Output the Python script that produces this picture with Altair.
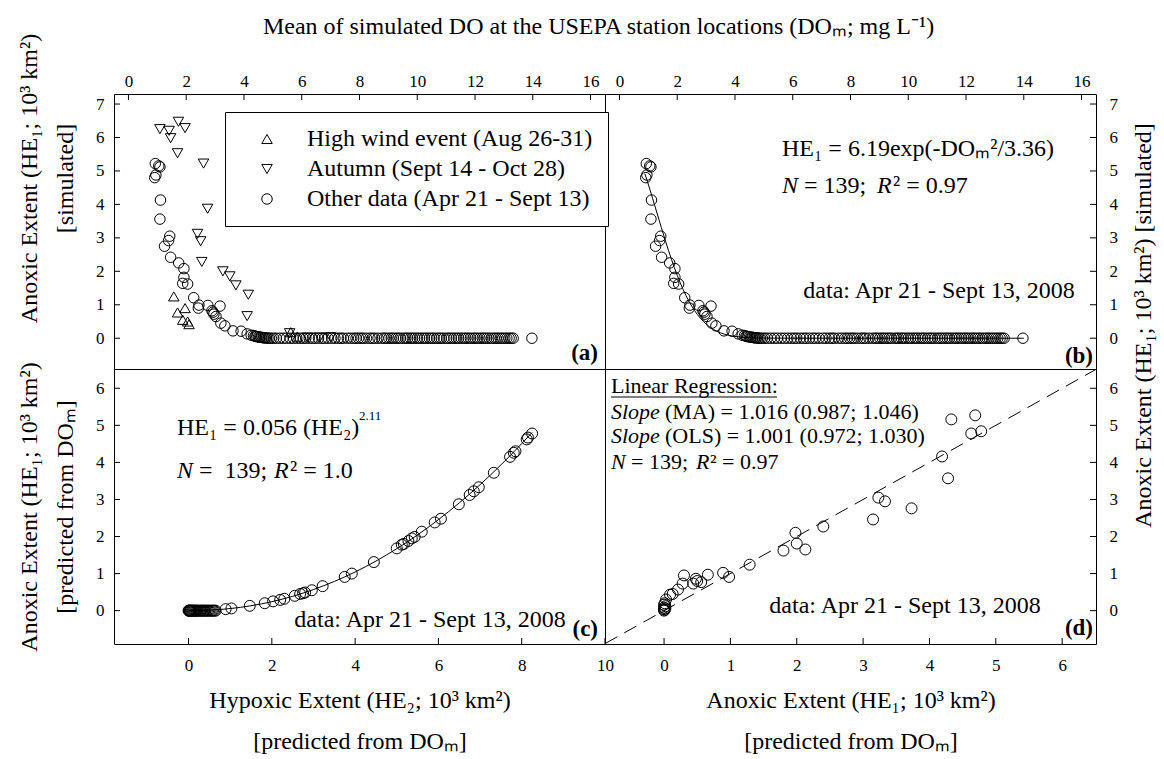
import altair as alt
import pandas as pd

FONT = "Liberation Serif"
W = 491
H = 275

# ---------------- data ----------------
# Panel (a)/(b): "other data" circles, DO_m vs simulated HE1
other_do = [0.93, 1.05, 1.09, 0.91, 0.95, 1.11, 1.09, 1.43, 1.39, 1.25,
            1.46, 1.74, 1.92, 1.92, 1.88, 2.05, 2.26, 2.44, 2.42, 2.75,
            2.89, 2.96, 2.93, 3.17, 3.03, 3.20, 3.34, 3.62, 3.90, 4.11,
            4.25, 4.33, 4.38, 4.41, 4.45, 4.50, 4.54, 4.58, 4.62, 4.66, 4.70,
            4.74, 4.78, 4.83, 4.88, 4.95, 5.03, 5.12, 5.24, 5.36, 5.47,
            5.60, 5.71, 5.83, 5.95, 6.05, 6.14, 6.26, 6.37, 6.46, 6.58,
            6.70, 6.79, 6.91, 7.04, 7.15, 7.27, 7.36, 7.44, 7.58, 7.69,
            7.80, 7.88, 7.97, 8.06, 8.13, 8.24, 8.36, 8.45, 8.52, 8.64,
            8.77, 8.86, 8.93, 9.02, 9.10, 9.17, 9.26, 9.33, 9.41, 9.52,
            9.60, 9.67, 9.76, 9.83, 9.91, 10.00, 10.08, 10.17, 10.25, 10.33,
            10.42, 10.50, 10.58, 10.68, 10.76, 10.83, 10.92, 11.02, 11.10, 11.18,
            11.27, 11.35, 11.43, 11.52, 11.61, 11.68, 11.76, 11.84, 11.93, 12.00,
            12.08, 12.17, 12.25, 12.32, 12.40, 12.48, 12.57, 12.66, 12.73, 12.80,
            12.88, 12.95, 13.03, 13.10, 13.18, 13.25, 13.32, 13.97]
other_he1 = [5.22, 5.15, 5.12, 4.80, 4.88, 4.13, 3.56, 3.05, 2.92, 2.75,
             2.42, 2.25, 2.08, 1.82, 1.64, 1.62, 1.21, 0.99, 0.90, 0.98,
             0.82, 0.72, 0.78, 0.96, 0.65, 0.45, 0.37, 0.22, 0.21, 0.13,
             0.09, 0.08, 0.06, 0.05, 0.05, 0.04, 0.03, 0.03, 0.02, 0.02, 0.01,
             0.01, 0.01, 0.0, 0.0, 0.0, 0.0, 0.0, 0.0, 0.0, 0.0,
             0.0, 0.0, 0.0, 0.0, 0.0, 0.0, 0.0, 0.0, 0.0, 0.0,
             0.0, 0.0, 0.0, 0.0, 0.0, 0.0, 0.0, 0.0, 0.0, 0.0,
             0.0, 0.0, 0.0, 0.0, 0.0, 0.0, 0.0, 0.0, 0.0, 0.0,
             0.0, 0.0, 0.0, 0.0, 0.0, 0.0, 0.0, 0.0, 0.0, 0.0,
             0.0, 0.0, 0.0, 0.0, 0.0, 0.0, 0.0, 0.0, 0.0, 0.0,
             0.0, 0.0, 0.0, 0.0, 0.0, 0.0, 0.0, 0.0, 0.0, 0.0,
             0.0, 0.0, 0.0, 0.0, 0.0, 0.0, 0.0, 0.0, 0.0, 0.0,
             0.0, 0.0, 0.0, 0.0, 0.0, 0.0, 0.0, 0.0, 0.0, 0.0,
             0.0, 0.0, 0.0, 0.0, 0.0, 0.0, 0.0, 0.0]
wind_do = [1.57, 1.70, 1.88, 1.96, 2.05, 2.10, 5.62, 5.85]
wind_he1 = [1.25, 0.77, 0.55, 0.90, 0.50, 0.42, 0.18, 0.05]
autumn_do = [1.09, 1.41, 1.46, 1.73, 1.96, 1.70, 2.60, 2.74, 2.39, 2.50,
             2.54, 3.27, 3.51, 3.72, 4.15, 4.11, 5.58, 6.20, 6.62, 7.00]
autumn_he1 = [6.25, 6.20, 5.98, 6.47, 6.28, 5.53, 5.22, 3.87, 3.12, 2.90,
              2.28, 2.00, 1.85, 1.58, 1.30, 0.66, 0.15, 0.02, 0.02, 0.03]
legend_labels = ["High wind event (Aug 26-31)", "Autumn (Sept 14 - Oct 28)",
                 "Other data (Apr 21 - Sept 13)"]
# fitted curve of panel (b): HE1 = 6.19 exp(-DO^2/3.36), drawn at these DO values
fit_b_do = [0.88, 0.95, 1.05, 1.15, 1.3, 1.45, 1.6, 1.8, 2.0, 2.2, 2.4, 2.6,
            2.8, 3.0, 3.25, 3.5, 3.75, 4.0, 4.5, 5.0, 6.0, 8.0, 10.0, 12.0, 14.0]

# Panel (c): HE2 predicted vs HE1 predicted
c_he2 = [0.00, 0.01, 0.02, 0.03, 0.04, 0.05, 0.06, 0.08, 0.10, 0.12,
         0.14, 0.16, 0.18, 0.20, 0.22, 0.25, 0.28, 0.30, 0.33, 0.36,
         0.38, 0.41, 0.44, 0.47, 0.50, 0.53, 0.56, 0.59, 0.62, 0.65,
         0.89, 1.03, 1.47, 1.83, 2.03, 2.20, 2.30, 2.55, 2.68, 2.75,
         2.80, 2.96, 3.22, 3.75, 3.92, 4.45, 5.00, 5.12, 5.17, 5.28,
         5.36, 5.43, 5.60, 5.91, 6.06, 6.49, 6.75, 6.85, 6.97, 7.33,
         7.72, 7.81, 7.85, 8.12, 8.15, 8.25]
c_he1 = [0.0] * 30 + [
         0.04, 0.06, 0.13, 0.20, 0.25, 0.29, 0.32, 0.40, 0.45, 0.47,
         0.49, 0.55, 0.66, 0.91, 1.00, 1.31, 1.68, 1.78, 1.80, 1.88,
         1.95, 1.99, 2.13, 2.38, 2.48, 2.87, 3.12, 3.22, 3.33, 3.72,
         4.15, 4.26, 4.30, 4.62, 4.67, 4.78]
# fitted curve of panel (c): HE1 = 0.056 HE2^2.11, drawn at these HE2 values
fit_c_he2 = [0.0, 0.5, 1.0, 1.5, 2.0, 2.5, 3.0, 3.5, 4.0, 4.5, 5.0, 5.5,
             6.0, 6.5, 7.0, 7.5, 8.0, 8.25]

# Panel (d): HE1 predicted vs HE1 simulated
d_pred = [4.33, 4.69, 4.63, 4.78, 4.19, 4.28, 3.73, 3.15, 3.23, 3.33,
          2.40, 1.98, 2.00, 2.13, 1.80, 1.29, 0.98, 0.89, 0.66, 0.56,
          0.48, 0.44, 0.50, 0.30, 0.28, 0.21, 0.09, 0.13, 0.03, 0.00,
          0.00, 0.02, 0.00, 0.01, 0.00, 0.01, 0.02]
d_sim = [5.16, 5.27, 4.78, 4.84, 4.16, 3.57, 2.76, 2.46, 3.05, 2.95,
         2.27, 2.10, 1.81, 1.65, 1.62, 1.24, 0.91, 1.02, 0.97, 0.77,
         0.86, 0.73, 0.80, 0.95, 0.73, 0.57, 0.43, 0.45, 0.30, 0.16,
         0.08, 0.12, 0.04, 0.20, 0.00, 0.02, 0.06]
one_to_one = [-0.89, 6.51]

top_ticks = [0, 2, 4, 6, 8, 10, 12, 14, 16]
top_yticks = [0, 1, 2, 3, 4, 5, 6, 7]
c_xticks = [0, 2, 4, 6, 8, 10]
d_xticks = [0, 1, 2, 3, 4, 5, 6]
bot_yticks = [0, 1, 2, 3, 4, 5, 6]

TITLE = "Mean of simulated DO at the USEPA station locations (DO\u2098; mg L\u207b\u00b9)"
Y_SIM = "Anoxic Extent (HE\u2081; 10\u00b3 km\u00b2)"
PRED = "[predicted from DO\u2098]"

# ---------------- scales ----------------
xs_top = alt.Scale(domain=[-0.5, 16.5], nice=False, zero=False)
ys_top = alt.Scale(domain=[-0.92, 7.3], nice=False, zero=False)
xs_c = alt.Scale(domain=[-1.79, 10.0], nice=False, zero=False)
xs_d = alt.Scale(domain=[-0.89, 6.51], nice=False, zero=False)
ys_bot = alt.Scale(domain=[-0.9, 6.52], nice=False, zero=False)

# ---------------- axes ----------------
common = dict(labelFont=FONT, titleFont=FONT, labelFlush=False, labelOverlap=False)
AX_TOP = alt.Axis(orient="top", values=top_ticks, title="", labelPadding=4, **common)
AY_A = alt.Axis(orient="left", values=top_yticks, title=[Y_SIM, "[simulated]"], titleY=84,
                titleLineHeight=36, labelPadding=10, titlePadding=18, **common)
AY_B = alt.Axis(orient="right", values=top_yticks, title=Y_SIM + " [simulated]", titleAngle=270,
                titleBaseline="top", titleY=231, labelPadding=13, titlePadding=14, **common)
AX_C = alt.Axis(orient="bottom", values=c_xticks, title=["Hypoxic Extent (HE\u2082; 10\u00b3 km\u00b2)", PRED],
                titleLineHeight=41, labelPadding=13, titlePadding=15, **common)
AY_C = alt.Axis(orient="left", values=bot_yticks, title=[Y_SIM, PRED], titleLineHeight=36,
                labelPadding=10, titlePadding=18, **common)
AX_D = alt.Axis(orient="bottom", values=d_xticks, title=[Y_SIM, PRED],
                titleLineHeight=41, labelPadding=13, titlePadding=15, **common)
AY_D = alt.Axis(orient="right", values=bot_yticks, title="", labelPadding=13, **common)

TICK = 6


def xticks(vals, scale, axis, bottom):
    y0, y1 = (H, H - TICK) if bottom else (0, TICK)
    return alt.Chart(pd.DataFrame({"v": vals})).mark_rule(color="black", strokeWidth=1).encode(
        x=alt.X("v:Q", scale=scale, axis=axis), y=alt.value(y0), y2=alt.value(y1))


def yticks(vals, scale, axis, right):
    x0, x1 = (W, W - TICK) if right else (0, TICK)
    return alt.Chart(pd.DataFrame({"v": vals})).mark_rule(color="black", strokeWidth=1).encode(
        y=alt.Y("v:Q", scale=scale, axis=axis), x=alt.value(x0), x2=alt.value(x1))


def label(s, x, y, size=24, align="left", italic=False, bold=False):
    return alt.Chart(pd.DataFrame({"t": [s]})).mark_text(
        font=FONT, fontSize=size, align=align, baseline="middle", color="black",
        fontStyle="italic" if italic else "normal",
        fontWeight="bold" if bold else "normal",
    ).encode(x=alt.value(x), y=alt.value(y), text="t:N")


# ---------------- panel (a) ----------------
df_a = pd.DataFrame({
    "do": wind_do + autumn_do + other_do,
    "he1": wind_he1 + autumn_he1 + other_he1,
    "grp": [legend_labels[0]] * len(wind_do) + [legend_labels[1]] * len(autumn_do)
           + [legend_labels[2]] * len(other_do),
})
pts_a = alt.Chart(df_a).mark_point(filled=False, color="black", strokeWidth=1, size=110, opacity=1).encode(
    x=alt.X("do:Q", scale=xs_top, axis=AX_TOP),
    y=alt.Y("he1:Q", scale=ys_top, axis=AY_A),
    shape=alt.Shape("grp:N", scale=alt.Scale(domain=legend_labels,
                                             range=["triangle-up", "triangle-down", "circle"]),
                    legend=alt.Legend(orient="none", legendX=111, legendY=18, title=None,
                                      strokeColor="black", fillColor="white", padding=15,
                                      symbolOffset=15, labelOffset=28, rowPadding=6,
                                      labelFont=FONT, labelFontSize=24, labelColor="black",
                                      labelLimit=500, symbolSize=110, symbolStrokeWidth=1,
                                      symbolStrokeColor="black", cornerRadius=0)),
)
panel_a = alt.layer(
    pts_a,
    xticks(top_ticks, xs_top, AX_TOP, False),
    yticks(top_yticks, ys_top, AY_A, False),
    label("(a)", 484, 259, size=23, align="right", bold=True),
).properties(width=W, height=H)

# ---------------- panel (b) ----------------
df_b = pd.DataFrame({"do": other_do, "he1": other_he1})
pts_b = alt.Chart(df_b).mark_point(filled=False, color="black", strokeWidth=1, size=110, opacity=1).encode(
    x=alt.X("do:Q", scale=xs_top, axis=AX_TOP),
    y=alt.Y("he1:Q", scale=ys_top, axis=AY_B),
)
fit_b = alt.Chart(pd.DataFrame({"do": fit_b_do})).transform_calculate(
    he1="6.19*exp(-datum.do*datum.do/3.36)"
).mark_line(color="black", strokeWidth=1, interpolate="monotone").encode(
    x=alt.X("do:Q", scale=xs_top, axis=AX_TOP), y=alt.Y("he1:Q", scale=ys_top, axis=AY_B))
panel_b = alt.layer(
    pts_b, fit_b,
    xticks(top_ticks, xs_top, AX_TOP, False),
    yticks(top_yticks, ys_top, AY_B, True),
    label("HE\u2081 = 6.19exp(-DO\u2098\u00b2/3.36)", 177, 55),
    label("N", 177, 92, italic=True),
    label("= 139;", 199, 92),
    label("R", 272, 92, italic=True),
    label("\u00b2 = 0.97", 288, 92),
    label("data: Apr 21 - Sept 13, 2008", 334, 197, align="center"),
    label("(b)", 488, 262, size=23, align="right", bold=True),
).properties(width=W, height=H)

# ---------------- panel (c) ----------------
df_c = pd.DataFrame({"he2": c_he2, "he1": c_he1})
pts_c = alt.Chart(df_c).mark_point(filled=False, color="black", strokeWidth=1, size=120, opacity=1).encode(
    x=alt.X("he2:Q", scale=xs_c, axis=AX_C),
    y=alt.Y("he1:Q", scale=ys_bot, axis=AY_C),
)
fit_c = alt.Chart(pd.DataFrame({"he2": fit_c_he2})).transform_calculate(
    he1="0.056*pow(datum.he2, 2.11)"
).mark_line(color="black", strokeWidth=1, interpolate="monotone").encode(
    x=alt.X("he2:Q", scale=xs_c, axis=AX_C), y=alt.Y("he1:Q", scale=ys_bot, axis=AY_C))
panel_c = alt.layer(
    pts_c, fit_c,
    xticks(c_xticks, xs_c, AX_C, True),
    yticks(bot_yticks, ys_bot, AY_C, False),
    label("HE\u2081 = 0.056 (HE\u2082)", 63, 59),
    label("2.11", 245, 47, size=13),
    label("N", 63, 102, italic=True),
    label("=\u00a0 139;", 85, 102),
    label("R", 160, 102, italic=True),
    label("\u00b2 = 1.0", 176, 102),
    label("data: Apr 21 - Sept 13, 2008", 316, 251, align="center"),
    label("(c)", 484, 260, size=23, align="right", bold=True),
).properties(width=W, height=H)

# ---------------- panel (d) ----------------
df_d = pd.DataFrame({"pred": d_pred, "sim": d_sim})
pts_d = alt.Chart(df_d).mark_point(filled=False, color="black", strokeWidth=1, size=120, opacity=1).encode(
    x=alt.X("pred:Q", scale=xs_d, axis=AX_D),
    y=alt.Y("sim:Q", scale=ys_bot, axis=AY_D),
)
line_d = alt.Chart(pd.DataFrame({"a": one_to_one})).mark_line(
    color="black", strokeWidth=1, strokeDash=[14, 8], clip=True
).encode(x=alt.X("a:Q", scale=xs_d, axis=AX_D), y=alt.Y("a:Q", scale=ys_bot, axis=AY_D))
underline = alt.Chart(pd.DataFrame({"a": [0]})).mark_rule(color="black", strokeWidth=1).encode(
    x=alt.value(6), x2=alt.value(172), y=alt.value(28))
panel_d = alt.layer(
    pts_d, line_d,
    xticks(d_xticks, xs_d, AX_D, True),
    yticks(bot_yticks, ys_bot, AY_D, True),
    label("Linear Regression:", 6, 17, size=22),
    underline,
    label("Slope", 6, 43, size=22, italic=True),
    label("(MA) = 1.016 (0.987; 1.046)", 60, 43, size=22),
    label("Slope", 6, 67, size=22, italic=True),
    label("(OLS) = 1.001 (0.972; 1.030)", 60, 67, size=22),
    label("N", 6, 93, size=22, italic=True),
    label("= 139;", 26, 93, size=22),
    label("R", 91, 93, size=22, italic=True),
    label("\u00b2 = 0.97", 105, 93, size=22),
    label("data: Apr 21 - Sept 13, 2008", 300, 237, align="center"),
    label("(d)", 488, 259, size=23, align="right", bold=True),
).properties(width=W, height=H)

chart = alt.concat(panel_a, panel_b, panel_c, panel_d, columns=2, spacing=0, bounds="flush").properties(
    title=alt.TitleParams(text=TITLE, font=FONT, fontSize=24, fontWeight="normal", color="black",
                          anchor="middle", offset=-6, dx=12),
    padding={"left": 16, "top": 14, "right": 5, "bottom": 5},
    background="white",
).configure_view(stroke="black", strokeWidth=1).configure_axis(
    labelFont=FONT, titleFont=FONT, labelFontSize=17, titleFontSize=24, titleFontWeight="normal",
    labelColor="black", titleColor="black", grid=False, ticks=False, domain=False,
)

chart.save("out.html", embed_options={"renderer": "svg", "actions": False})
